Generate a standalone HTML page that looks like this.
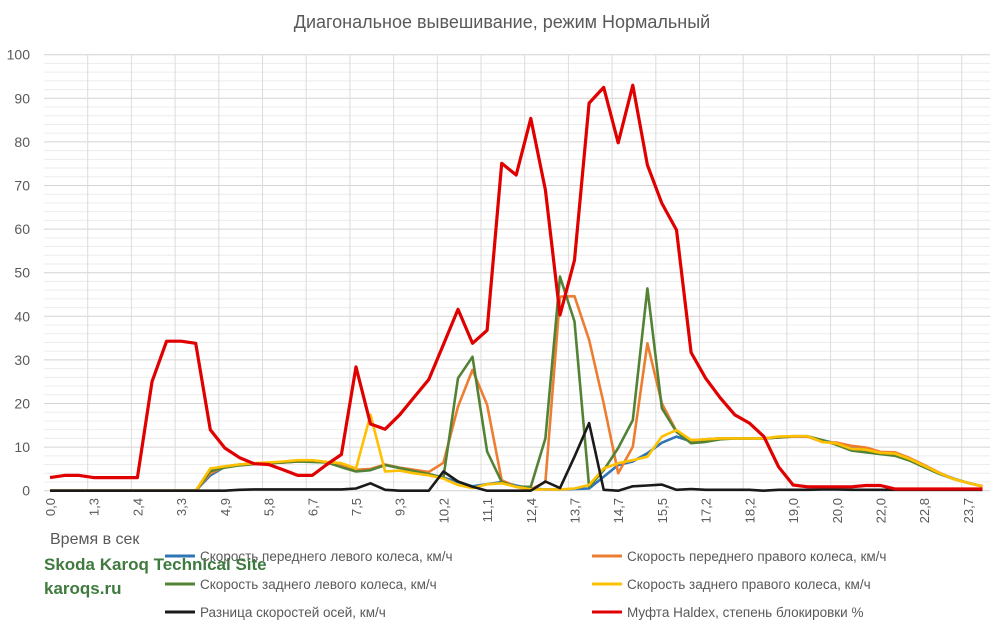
<!DOCTYPE html>
<html><head><meta charset="utf-8">
<style>
body{margin:0;background:#fff;width:1000px;height:634px;overflow:hidden;font-family:"Liberation Sans","DejaVu Sans",sans-serif}
svg text{font-family:"Liberation Sans","DejaVu Sans",sans-serif}
</style></head>
<body>
<svg id="chart" width="1000" height="634" viewBox="0 0 1000 634" xmlns="http://www.w3.org/2000/svg">
<text x="502" y="28" text-anchor="middle" font-size="18" fill="#595959">Диагональное вывешивание, режим Нормальный</text>
<g id="grid"></g>
<g id="yticks"></g>
<g id="xticks"></g>
<g id="series"></g>
<text x="50" y="544" font-size="16" fill="#595959">Время в сек</text>
<g id="legend"></g>
<text x="44" y="570" font-size="17" font-weight="bold" fill="#3f7a3f">Skoda Karoq Technical Site</text>
<text x="44" y="594" font-size="17" font-weight="bold" fill="#3f7a3f">karoqs.ru</text>
</svg>
<script>
const xLabels = ["0,0","1,3","2,4","3,3","4,9","5,8","6,7","7,5","9,3","10,2","11,1","12,4","13,7","14,7","15,5","17,2","18,2","19,0","20,0","22,0","22,8","23,7"];
const yTicks = [0,10,20,30,40,50,60,70,80,90,100];
const seriesNames = ["Скорость переднего левого колеса, км/ч","Скорость переднего правого колеса, км/ч","Скорость заднего левого колеса, км/ч","Скорость заднего правого колеса, км/ч","Разница скоростей осей, км/ч","Муфта Haldex, степень блокировки %"];
const frontLeft = [0,0,0,0,0,0,0,0,0,0,0,3.5,5.5,6,6.2,6.3,6.5,6.7,6.8,6.5,5.6,4.5,4.8,5.9,5.2,4.5,3.8,3,2,1,1.5,2,1.2,0.5,0.3,0.3,0.4,0.5,3.2,5.9,6.7,8.6,11,12.4,11.3,11.8,12,12,12,12,12.2,12.4,12.4,11.6,10.8,9.8,9.4,8.8,8.2,7.1,5.7,4.1,2.8,1.8,1];
const frontRight = [0,0,0,0,0,0,0,0,0,0,0,4,5.5,6,6.2,6.3,6.5,6.7,6.8,6.5,5.8,4.8,5,6,5.3,4.8,4.3,6.4,19.3,27.7,19.7,2.4,0.9,0.3,2,44.5,44.6,34.6,20,4,10.1,33.8,20,13.6,11.5,11.8,12,12,12,12,12.2,12.4,12.4,11.2,11,10.3,9.9,8.9,8.8,7.5,5.9,4.2,2.7,1.8,1];
const rearLeft = [0,0,0,0,0,0,0,0,0,0,0,4.5,5.3,5.8,6.1,6.3,6.5,6.7,6.6,6.5,5.4,4.4,4.7,5.9,5.2,4.5,3.8,3,25.8,30.7,9,2,0.9,0.9,12,49.1,38.8,0.9,4.7,9.8,16.2,46.4,18.9,13.5,10.9,11.2,11.8,12,12,12,12.2,12.5,12.5,11.6,10.5,9.2,8.8,8.4,8,6.9,5.4,3.9,2.7,1.8,1];
const rearRight = [0,0,0,0,0,0,0,0,0,0,0,5.1,5.6,6,6.3,6.5,6.7,7,7,6.6,6.3,5.1,17.4,4.4,4.6,4,3.5,2.8,1.3,0.6,1.5,1.7,0.9,0.3,0.3,0.3,0.5,1.3,5.1,6.3,7,7.8,12.4,13.9,11.6,11.8,12,12,12,12,12.4,12.5,12.5,11.2,10.8,9.6,9.4,8.7,8.5,7.3,5.7,4.1,2.7,1.8,1];
const axleDiff = [0,0,0,0,0,0,0,0,0,0,0,0,0,0.2,0.3,0.3,0.3,0.3,0.3,0.3,0.3,0.5,1.7,0.2,0,0,0,4.4,2.1,0.9,0,0,0,0,2.1,0.6,7.8,15.5,0.2,0,1,1.2,1.4,0.2,0.4,0.2,0.2,0.2,0.2,0,0.2,0.2,0.2,0.3,0.3,0.2,0.2,0.2,0.2,0.2,0.2,0.2,0.2,0.2,0.2];
const haldex = [3,3.5,3.5,3,3,3,3,25,34.3,34.3,33.8,14,9.8,7.6,6.2,6,4.8,3.5,3.5,6,8.3,28.4,15.3,14.1,17.4,21.5,25.5,33.5,41.6,33.8,36.8,75.1,72.4,85.4,69,40.3,52.9,88.9,92.5,79.8,93,74.7,65.9,59.8,31.7,25.8,21.3,17.4,15.5,12.4,5.5,1.3,0.9,0.9,0.9,0.9,1.2,1.2,0.4,0.4,0.4,0.4,0.4,0.4,0.4];
const colors = ["#2e75b6","#ed7d31","#548235","#ffc000","#1a1a1a","#e00000"];

const NS="http://www.w3.org/2000/svg";
const X0=50, STEP=14.57, Y0=490.7, YSCALE=4.36, PLOT_L=44, PLOT_R=990;
function xs(i){return X0+i*STEP;}
function ys(v){return Y0-v*YSCALE;}
function mk(tag,attrs,parent){const e=document.createElementNS(NS,tag);for(const k in attrs)e.setAttribute(k,attrs[k]);parent.appendChild(e);return e;}

const grid=document.getElementById('grid');
for(let v=0;v<=100;v+=2){
  const l=mk('line',{x1:PLOT_L,x2:PLOT_R,y1:ys(v),y2:ys(v),stroke:v%10===0?'#d4d4d4':'#ececec','stroke-width':1},grid);
  
  
}
for(let x=PLOT_L+43.7;x<PLOT_R;x+=43.7){
  const l=mk('line',{x1:x,x2:x,y1:ys(100),y2:ys(0),stroke:'#dcdcdc','stroke-width':1},grid);
  
  
}
const yt=document.getElementById('yticks');
yTicks.forEach(v=>{
  const t=mk('text',{x:30,y:ys(v)+5,'text-anchor':'end','font-size':14,fill:'#595959'},yt);
  t.textContent=v;
  
  
});
const xt=document.getElementById('xticks');
xLabels.forEach((s,k)=>{
  const x=xs(k*3)+5, y=498;
  const t=mk('text',{x:x,y:y,'text-anchor':'end','font-size':13,fill:'#595959',transform:`rotate(-90 ${x} ${y})`},xt);
  t.textContent=s;
  
  
});
const sg=document.getElementById('series');
const allSeries=[frontLeft,frontRight,rearLeft,rearRight,axleDiff,haldex];
const sNames=['front-left-line','front-right-line','rear-left-line','rear-right-line','axle-diff-line','haldex-line'];
allSeries.forEach((arr,si)=>{
  const pts=arr.map((v,i)=>xs(i).toFixed(1)+','+ys(v).toFixed(1)).join(' ');
  const p=mk('polyline',{points:pts,fill:'none',stroke:colors[si],'stroke-width':si===5?3.2:2.6,'stroke-linejoin':'round'},sg);
  
  
});
const lg=document.getElementById('legend');
const order=[0,1,2,3,4,5];
order.forEach((si,k)=>{
  const col=k%2,row=Math.floor(k/2);
  const lx=col===0?165:592, ly=556+row*28;
  const g=mk('g',{},lg);
  
  
  mk('line',{x1:lx,x2:lx+30,y1:ly,y2:ly,stroke:colors[si],'stroke-width':3},g);
  const t=mk('text',{x:lx+35,y:ly+5,'font-size':13.5,fill:'#595959'},g);
  t.textContent=seriesNames[si];
});
</script>
</body></html>
